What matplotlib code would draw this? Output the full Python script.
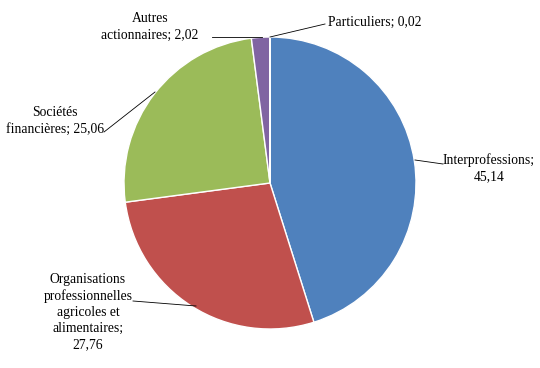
import matplotlib.pyplot as plt
import numpy as np

labels = ['Interprofessions', 'Organisations professionnelles agricoles et alimentaires',
          'Sociétés financières', 'Autres actionnaires', 'Particuliers']
values = [45.14, 27.76, 25.06, 2.02, 0.02]
colors = ['#4F81BD', '#C0504D', '#9BBB59', '#8064A2', '#4BACC6']
texts = ['Interprofessions;\n45,14',
         'Organisations\nprofessionnelles\nagricoles et\nalimentaires;\n27,76',
         'Sociétés\nfinancières; 25,06',
         'Autres\nactionnaires; 2,02',
         'Particuliers; 0,02']

plt.rcParams['font.family'] = ['Liberation Serif', 'DejaVu Serif']

fig = plt.figure(figsize=(5.4, 3.68), dpi=100)
ax = fig.add_axes([0, 0, 1, 1])

cx, cy, r = 270, 185, 146
wedges, _ = ax.pie(values, colors=colors, startangle=90, counterclock=False,
                   center=(cx, cy), radius=r, frame=True,
                   wedgeprops=dict(edgecolor='white', linewidth=1))
ax.set_xlim(0, 540)
ax.set_ylim(0, 368)
ax.axis('off')

# label anchor, alignment, line start, point on pie edge
layout = [
    ((489, 200), 'center', (443, 204), (415, 208)),
    ((88, 56), 'center', (133, 67), (196, 62)),
    ((55, 247), 'center', (104, 236), (155, 276)),
    ((150, 341), 'center', (212, 331), (262, 331)),
    ((328, 346), 'left', (325, 344), (270, 331)),
]

for t, (pos, ha, start, ep) in zip(texts, layout):
    ax.text(pos[0], pos[1], t, ha=ha, va='center', fontsize=9.8,
            linespacing=1.3)
    ax.plot([start[0], ep[0]], [start[1], ep[1]], color='black', lw=0.6)

fig.savefig('out.png', dpi=100)
